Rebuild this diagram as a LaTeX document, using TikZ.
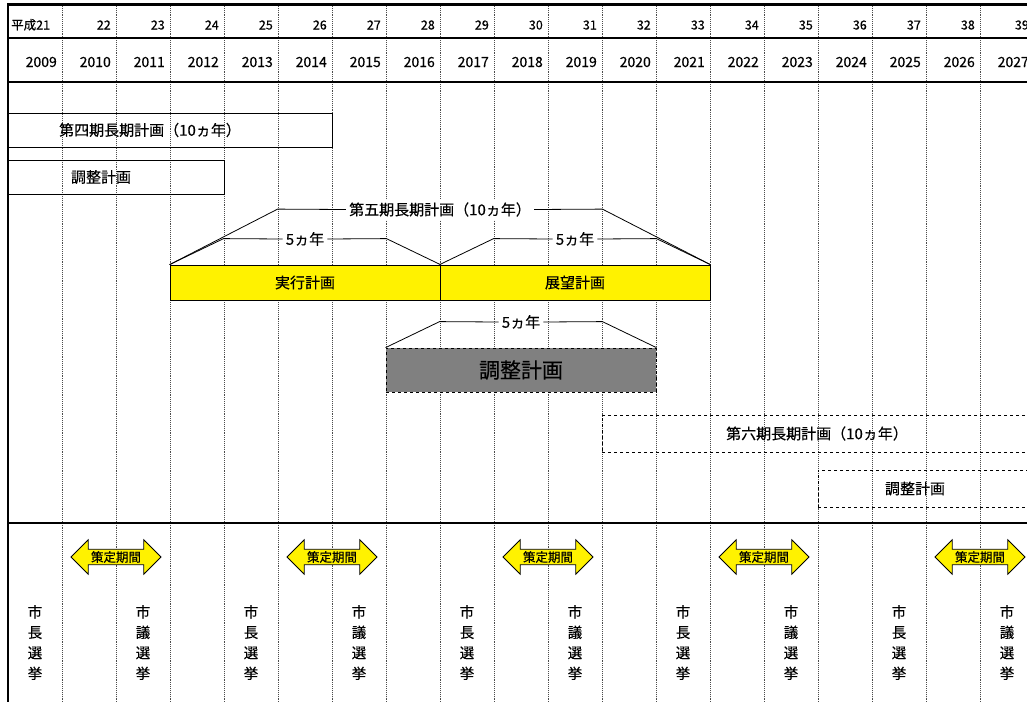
\documentclass[tikz,border=0pt]{standalone}
\usepackage{fontspec}
\setmainfont{Noto Sans CJK JP}[FakeBold=0.3]
\usetikzlibrary{shapes.arrows}

\tikzset{
  grid line/.style={densely dotted, gray!60!black, line width=0.9pt},
  frame line/.style={line width=2.4pt},
  plan box/.style={draw, line width=0.8pt, inner sep=0pt},
  plan text/.style={font=\fontsize{15}{18}\selectfont},
  bracket/.style={line width=0.8pt},
  bracket label/.style={fill=white, inner sep=3pt, font=\fontsize{15}{18}\selectfont},
  term arrow/.style={double arrow, draw, fill=yellow, line width=0.8pt,
    double arrow head extend=9.5pt, inner xsep=0pt, inner ysep=1.5pt,
    minimum height=90pt, font=\fontsize{12.5}{14}\selectfont},
  election/.style={align=center, inner sep=0pt, font=\fontsize{14.5}{20.5}\selectfont}
}

\begin{document}
\begin{tikzpicture}[x=1pt, y=-1pt]
\clip (0,0) rectangle (1027,702);

% year columns
    \foreach \i in {1,...,18}
        \draw[grid line] (8+54*\i,4) -- (8+54*\i,702);
% frame
    \draw[frame line] (8,4.5) -- (1040,4.5);
    \draw[frame line] (8,38) -- (1040,38);
    \draw[frame line] (8,82) -- (1040,82);
    \draw[frame line] (8,523) -- (1040,523);
    \draw[frame line] (8,3.3) -- (8,702);

% labels
    \node[anchor=base west, inner sep=0pt, font=\fontsize{12.5}{14}\selectfont] (heisei0) at (11,29.5) {平成21};
    \foreach \i in {1,...,18}
        \node[anchor=base east, inner sep=0pt, font=\fontsize{12.5}{14}\selectfont] (heisei\i) at (57+54*\i,29.5) {\the\numexpr21+\i\relax};
    \foreach \i in {0,...,18}
        \node[anchor=base east, inner sep=0pt, font=\fontsize{14}{16}\selectfont] (year\i) at (57+54*\i,67) {\the\numexpr2009+\i\relax};

% fourth plan
    \node[plan box, minimum width=324pt, minimum height=34pt] (dai4) at (170,130) {};
    \node[plan text] (dai4text) at (150,130) {第四期長期計画（10ヵ年）};
    \node[plan box, minimum width=216pt, minimum height=34pt] (chosei1) at (116,177) {};
    \node[plan text] (chosei1text) at (101,177) {調整計画};

% fifth plan
    \node[plan box, plan text, fill=yellow, minimum width=270pt, minimum height=35pt] (jikko) at (305,282.5) {実行計画};
    \node[plan box, plan text, fill=yellow, minimum width=270pt, minimum height=35pt] (tenbo) at (575,282.5) {展望計画};
    \node[bracket label] (dai5) at (440,209.5) {第五期長期計画（10ヵ年）};
    \draw[bracket] (jikko.north west) -- ++(108,-55.5) -- (dai5.west);
    \draw[bracket] (tenbo.north east) -- ++(-108,-55.5) -- (dai5.east);
    \node[bracket label] (gonen1) at (305,239) {5ヵ年};
    \draw[bracket] (jikko.north west) -- ++(54,-26) -- (gonen1.west);
    \draw[bracket] (jikko.north east) -- ++(-54,-26) -- (gonen1.east);
    \node[bracket label] (gonen2) at (575,239) {5ヵ年};
    \draw[bracket] (tenbo.north west) -- ++(54,-26) -- (gonen2.west);
    \draw[bracket] (tenbo.north east) -- ++(-54,-26) -- (gonen2.east);

% adjustment
    \node[plan box, dashed, fill=gray, minimum width=270pt, minimum height=44pt, font=\fontsize{21}{24}\selectfont] (chosei2) at (521,370) {調整計画};
    \node[bracket label] (gonen3) at (521,322) {5ヵ年};
    \draw[bracket] (chosei2.north west) -- ++(54,-26) -- (gonen3.west);
    \draw[bracket] (chosei2.north east) -- ++(-54,-26) -- (gonen3.east);

% sixth plan
    \node[plan box, plan text, dashed, minimum width=430pt, minimum height=37pt] (dai6) at (817,433.5) {第六期長期計画（10ヵ年）};
    \node[plan box, dashed, minimum width=222pt, minimum height=37pt] (chosei3) at (929,488.5) {};
    \node[plan text] (chosei3text) at (915,488.5) {調整計画};

% drafting terms
    \foreach \k in {0,...,4}
        \node[term arrow] (sakutei\k) at (116+216*\k,557) {策定期間};

% elections
    \foreach \k in {0,...,4} {
        \node[election] (shicho\k) at (35+216*\k,642.5) {市\\長\\選\\挙};
        \node[election] (shigi\k) at (143+216*\k,642.5) {市\\議\\選\\挙};
    }

\end{tikzpicture}
\end{document}
